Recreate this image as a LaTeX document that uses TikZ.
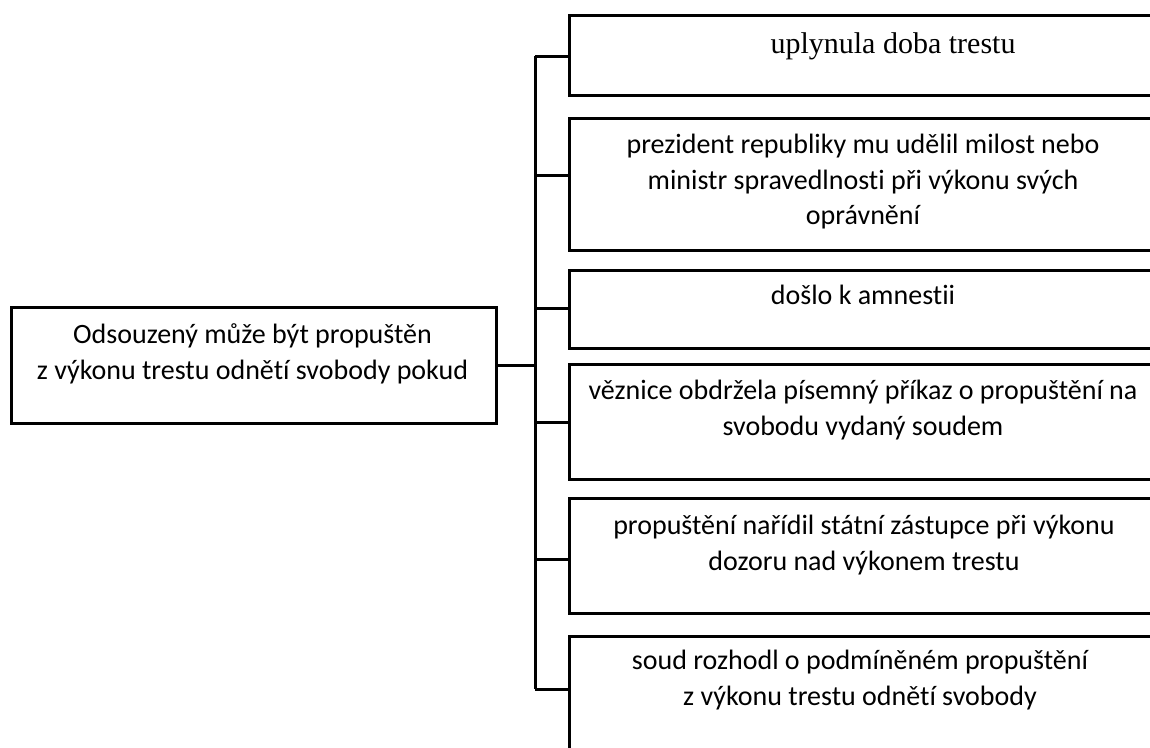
\documentclass[tikz,border=0pt]{standalone}
\usepackage{fontspec}
\setmainfont{Carlito}[Ligatures=NoCommon]
\newfontfamily\serifpart{Liberation Serif}
\usetikzlibrary{positioning}

\tikzset{
  cond/.style={draw, line width=3pt, inner sep=0pt, anchor=north west, minimum width=590pt},
  condtext/.style={align=center, inner sep=0pt, anchor=base},
}

\begin{document}
\begin{tikzpicture}[x=1pt, y=-1pt, line width=3pt, font=\fontsize{28}{35.5}\selectfont]
\useasboundingbox (0,0) rectangle (1150,747);
\clip (0,0) rectangle (1150,747);

% left box
\node[cond, minimum width=485pt, minimum height=116pt] (main) at (10,306) {};
\node[condtext] (maintext) at (252.5,379) {Odsouzený může být propuštěn\\ z výkonu trestu odnětí svobody pokud};

% right boxes
\node[cond, minimum height=80pt] (b1) at (568,14) {};
\node[cond, minimum height=132pt] (b2) at (568,117) {};
\node[cond, minimum height=78pt] (b3) at (568,269) {};
\node[cond, minimum height=115pt] (b4) at (568,363) {};
\node[cond, minimum height=115pt] (b5) at (568,497) {};
\node[cond, minimum height=130pt] (b6) at (568,635) {};

% base = last line
\node[condtext, font=\serifpart\fontsize{30}{36}\selectfont] (t1) at (893,53) {uplynula doba trestu};
\node[condtext] (t2) at (863,224.5) {prezident republiky mu udělil milost nebo\\ ministr spravedlnosti při výkonu svých\\ oprávnění};
\node[condtext] (t3) at (863,304.5) {došlo k amnestii};
\node[condtext] (t4) at (863,435) {věznice obdržela písemný příkaz o propuštění na\\ svobodu vydaný soudem};
\node[condtext] (t5) at (864,570) {propuštění nařídil státní zástupce při výkonu\\ dozoru nad výkonem trestu};
\node[condtext] (t6) at (860,705) {soud rozhodl o podmíněném propuštění\\ z výkonu trestu odnětí svobody};

% connectors
\coordinate (top) at (535,56);
\coordinate (bot) at (535,689);
\draw (top) -- (bot);
\draw (main.east) -- (main.east -| top);
\foreach \n/\y in {b1/56, b2/175, b3/308, b4/422, b5/559, b6/689}{
  \draw (top |- 0,\y) -- (\n.west |- 0,\y);
}
\end{tikzpicture}
\end{document}
